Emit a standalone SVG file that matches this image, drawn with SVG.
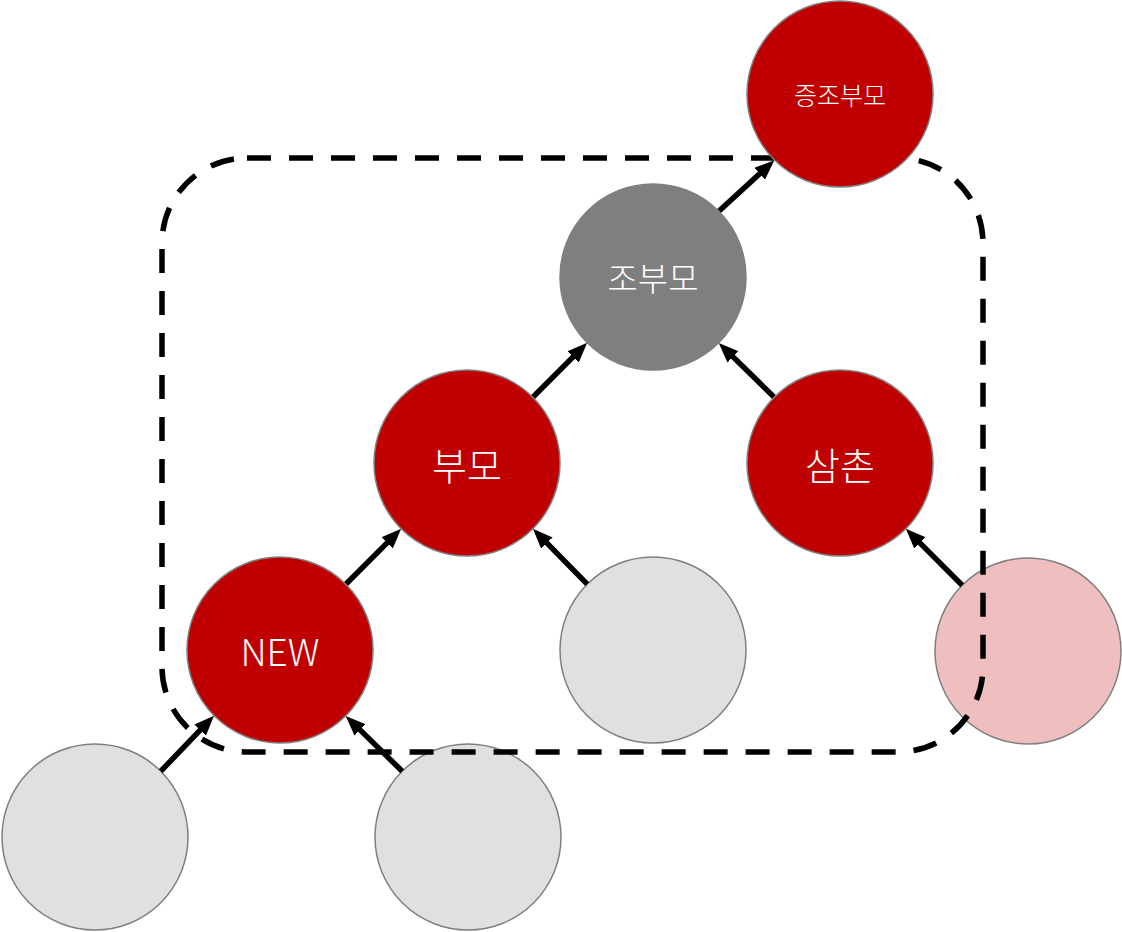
<svg xmlns="http://www.w3.org/2000/svg" width="1122" height="932" viewBox="0 0 1122 932">
<style>
.n{stroke:#7f7f7f;stroke-width:1.5}
.red{fill:#c00000}
.dark{fill:#7f7f7f}
.light{fill:#e0e0e0}
.pink{fill:#efbfbf}
.t{fill:#fff;font-family:"Noto Sans CJK KR","Noto Sans",sans-serif;font-weight:300;text-anchor:middle;dominant-baseline:central}
.c line{stroke:#000;stroke-width:5.5;marker-end:url(#ah)}
</style>
<defs>
<marker id="ah" markerUnits="userSpaceOnUse" markerWidth="20" markerHeight="16" viewBox="0 0 20 16" refX="10" refY="8" orient="auto">
<path d="M0,0 L20,8 L0,16 Z" fill="#000"/>
</marker>
</defs>
<rect width="1122" height="932" fill="#fff"/>
<g id="node-bl"><circle class="n light" cx="95" cy="837" r="93"/></g>
<g id="node-bm"><circle class="n light" cx="468" cy="837" r="93"/></g>
<g id="node-mid"><circle class="n light" cx="653" cy="650" r="93"/></g>
<g id="node-pink"><circle class="n pink" cx="1028" cy="651" r="93"/></g>
<g id="group-box"><rect x="162" y="158" width="821" height="594" rx="85" ry="85" fill="none" stroke="#000" stroke-width="5.5" stroke-dasharray="24 18"/></g>
<g id="connectors" class="c">
<line x1="345.8" y1="584.2" x2="394.1" y2="535.9"/>
<line x1="587.2" y1="584.2" x2="539.9" y2="535.9"/>
<line x1="160.8" y1="771.2" x2="207.1" y2="722.9"/>
<line x1="402.2" y1="771.2" x2="352.9" y2="722.9"/>
<line x1="532.8" y1="397.2" x2="580.1" y2="349.9"/>
<line x1="774.2" y1="397.2" x2="725.9" y2="349.9"/>
<line x1="962.2" y1="585.2" x2="912.9" y2="535.9"/>
<line x1="718.8" y1="211.2" x2="767" y2="167"/>
</g>
<g id="node-great"><circle class="n red" cx="840" cy="94" r="93"/><text class="t" x="840" y="94" font-size="25">증조부모</text></g>
<g id="node-grand"><circle class="n dark" cx="653" cy="277" r="93"/><text class="t" x="653" y="277" font-size="33">조부모</text></g>
<g id="node-parent"><circle class="n red" cx="467" cy="463" r="93"/><text class="t" x="467" y="463" font-size="38">부모</text></g>
<g id="node-uncle"><circle class="n red" cx="840" cy="463" r="93"/><text class="t" x="840" y="463" font-size="38">삼촌</text></g>
<g id="node-new"><circle class="n red" cx="280" cy="650" r="93"/><text class="t" x="280" y="650" font-size="37">NEW</text></g>
</svg>
